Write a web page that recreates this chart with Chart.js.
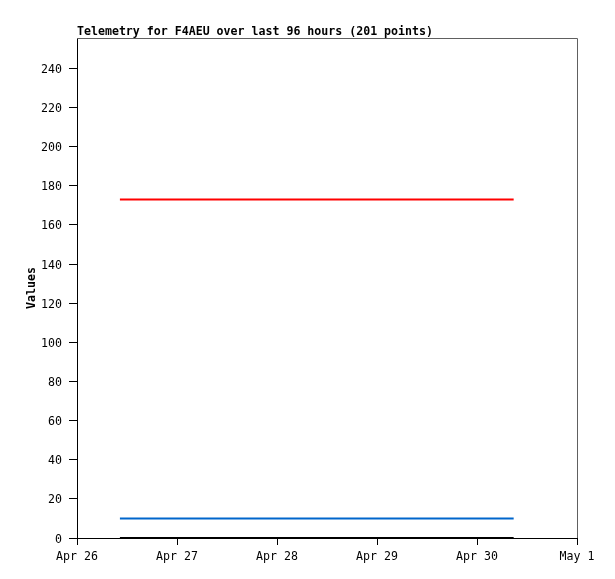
<!DOCTYPE html>
<html>
<head>
<meta charset="utf-8">
<script src="https://cdn.jsdelivr.net/npm/chart.js@4"></script>
<style>
  body { margin: 0; background: #fff; }
  canvas { display: block; }
</style>
</head>
<body>
<canvas id="myChart" width="615" height="579"></canvas>
<script>
// hours since Apr 26 00:00
var sampleHours = [10.3, 34, 58, 82, 104.8];
var redValues = [173, 173, 173, 173, 173];
var blueValues = [10, 10, 10, 10, 10];
var blackValues = [0, 0, 0, 0, 0];

var xTickHours = [0, 24, 48, 72, 96, 120];
var xTickLabels = ['Apr 26', 'Apr 27', 'Apr 28', 'Apr 29', 'Apr 30', 'May 1'];
var yTicks = [0, 20, 40, 60, 80, 100, 120, 140, 160, 180, 200, 220, 240];

var titleText = 'Telemetry for F4AEU over last 96 hours (201 points)';
var mono = '"DejaVu Sans Mono", "Liberation Mono", monospace';

function toPoints(vals) {
    return vals.map(function(v, i) { return { x: sampleHours[i], y: v }; });
}

var framePlugin = {
    id: 'frame',
    afterDraw: function(chart) {
        var ctx = chart.ctx;
        var a = chart.chartArea;
        ctx.save();
        ctx.strokeStyle = '#606060';
        ctx.lineWidth = 1;
        ctx.beginPath();
        ctx.moveTo(a.left, a.top + 0.5);
        ctx.lineTo(a.right + 0.5, a.top + 0.5);
        ctx.lineTo(a.right + 0.5, a.bottom);
        ctx.stroke();
        ctx.fillStyle = '#000';
        ctx.font = 'bold 11.6px ' + mono;
        ctx.textBaseline = 'alphabetic';
        ctx.textAlign = 'left';
        ctx.fillText(titleText, a.left, 35);
        ctx.restore();
    }
};

var ctx = document.getElementById('myChart').getContext('2d');
var myChart = new Chart(ctx, {
    type: 'line',
    data: {
        datasets: [
            { data: toPoints(redValues), borderColor: '#ff0000', borderWidth: 2 },
            { data: toPoints(blueValues), borderColor: '#0066cc', borderWidth: 2 },
            { data: toPoints(blackValues), borderColor: '#000000', borderWidth: 2 }
        ]
    },
    options: {
        responsive: false,
        animation: false,
        layout: { padding: { top: 38, right: 38, left: 0, bottom: 0 } },
        elements: { point: { radius: 0 }, line: { tension: 0 } },
        plugins: { legend: { display: false }, tooltip: { enabled: false } },
        scales: {
            x: {
                type: 'linear',
                min: 0,
                max: 120,
                afterBuildTicks: function(scale) {
                    scale.ticks = xTickHours.map(function(v) { return { value: v }; });
                },
                afterFit: function(scale) { scale.height = 41; },
                border: { color: '#000', width: 1 },
                grid: { drawOnChartArea: false, drawTicks: true, tickLength: 7, color: '#000' },
                ticks: {
                    color: '#000',
                    padding: 5,
                    maxRotation: 0,
                    autoSkip: false,
                    font: { family: mono, size: 11.6 },
                    callback: function(v) { return xTickLabels[xTickHours.indexOf(v)]; }
                }
            },
            y: {
                min: 0,
                max: 255.5,
                afterBuildTicks: function(scale) {
                    scale.ticks = yTicks.map(function(v) { return { value: v }; });
                },
                afterFit: function(scale) { scale.width = 77; },
                border: { color: '#000', width: 1 },
                grid: { drawOnChartArea: false, drawTicks: true, tickLength: 8, color: '#000' },
                ticks: {
                    color: '#000',
                    padding: 7,
                    labelOffset: 1.5,
                    font: { family: mono, size: 11.6 }
                },
                title: {
                    display: true,
                    text: 'Values',
                    color: '#000',
                    padding: { top: 25, bottom: 0 },
                    font: { family: mono, size: 11.6, weight: 'bold' }
                }
            }
        }
    },
    plugins: [framePlugin]
});
</script>
</body>
</html>
